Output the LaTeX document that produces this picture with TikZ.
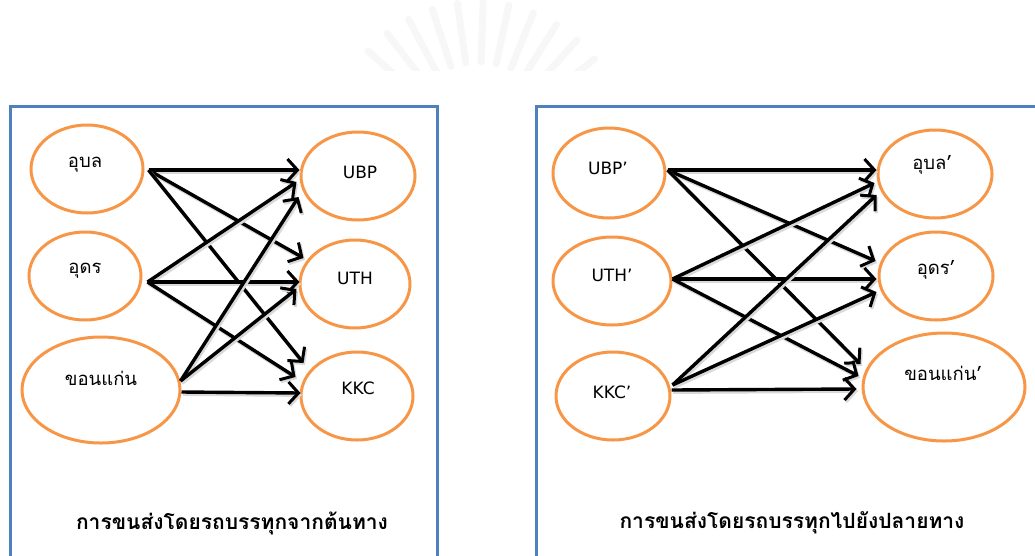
\documentclass[tikz,border=0pt]{standalone}
\usepackage{fontspec}
\newfontfamily\thaifont[Script=Thai]{Loma}
\newfontfamily\latfont{DejaVu Sans}
\usetikzlibrary{shapes.geometric,arrows.meta}
\definecolor{framblue}{HTML}{4F81BD}
\definecolor{ovalorange}{HTML}{F79646}
\tikzset{
  frame/.style={draw=framblue,line width=3pt},
  oval/.style={ellipse,draw=ovalorange,line width=3pt,inner sep=0pt},
  lbl/.style={font=\latfont\fontsize{17}{17}\selectfont,inner sep=0pt},
  tlbl/.style={font=\thaifont\fontsize{18.5}{18.5}\selectfont,inner sep=0pt},
  caption/.style={font=\thaifont\bfseries\fontsize{21}{21}\selectfont,inner sep=0pt},
  flow/.style={line width=3.4pt,-{Straight Barb[length=10pt,width=22pt,line width=3pt]},
    preaction={draw=black!15,line width=3.8pt,transform canvas={shift={(1.5pt,-2pt)}}}},
  ray/.style={line width=7pt,draw=black!3,line cap=round}
}
\begin{document}
\begin{tikzpicture}[x=1pt,y=-1pt]
\useasboundingbox (0,0) rectangle (1035,555);

% faint emblem behind the heading area
\begin{scope}
  \clip (360,0) rectangle (600,70);
  \foreach \a in {32,42,...,148}
    \draw[ray] (478,150) ++(\a:-88) -- ++(\a:-60);
\end{scope}

% panel frames (open at the bottom)
\draw[frame] (10,560) -- (10,106) -- (437,106) -- (437,560);
\draw[frame] (536,560) -- (536,106) -- (1040,106);

% ---------- left panel: origins -> hubs ----------
\node[oval,minimum width=112pt,minimum height=88pt] (ubon) at (87,169) {};
\node[oval,minimum width=112pt,minimum height=88pt] (udon) at (85,276) {};
\node[oval,minimum width=158pt,minimum height=106pt] (khon) at (101,390) {};
\node[oval,minimum width=114pt,minimum height=88pt] (ubp) at (358,176) {};
\node[oval,minimum width=110pt,minimum height=88pt] (uth) at (355,284) {};
\node[oval,minimum width=112pt,minimum height=88pt] (kkc) at (357,396) {};

\node[tlbl] (ubon-t) at (85,165) {อุบล};
\node[tlbl] (udon-t) at (85,271) {อุดร};
\node[tlbl] (khon-t) at (101,378) {ขอนแก่น};
\node[lbl] (ubp-t) at (360,172) {UBP};
\node[lbl] (uth-t) at (355,278) {UTH};
\node[lbl] (kkc-t) at (358,388) {KKC};

\draw[flow] ([xshift=4pt,yshift=-1pt]ubon.east) -- ([yshift=6pt]ubp.west);
\draw[flow] ([xshift=4pt,yshift=-1pt]ubon.east) -- ([xshift=5pt,yshift=26pt]uth.west);
\draw[flow] ([xshift=4pt,yshift=-1pt]ubon.east) -- ([xshift=4pt,yshift=33pt]kkc.west);
\draw[flow] ([xshift=5pt,yshift=-6pt]udon.east) -- ([xshift=-3pt,yshift=-6pt]ubp.west);
\draw[flow] ([xshift=5pt,yshift=-6pt]udon.east) -- ([xshift=1pt,yshift=2pt]uth.west);
\draw[flow] ([xshift=5pt,yshift=-6pt]udon.east) -- ([xshift=-4pt,yshift=19pt]kkc.west);
\draw[flow] ([xshift=-1pt,yshift=9pt]khon.east) -- ([xshift=-1pt,yshift=-21pt]ubp.west);
\draw[flow] ([xshift=-1pt,yshift=9pt]khon.east) -- ([xshift=-2pt,yshift=-5pt]uth.west);
\draw[flow] ([yshift=-2pt]khon.east) -- ([xshift=1pt,yshift=3pt]kkc.west);

\node[caption] (cap-l) at (232,523) {การขนส่งโดยรถบรรทุกจากต้นทาง};

% ---------- right panel: hubs -> destinations ----------
\node[oval,minimum width=112pt,minimum height=90pt] (ubp2) at (609,173) {};
\node[oval,minimum width=118pt,minimum height=88pt] (uth2) at (612,281) {};
\node[oval,minimum width=114pt,minimum height=88pt] (kkc2) at (613,396) {};
\node[oval,minimum width=114pt,minimum height=88pt] (ubon2) at (935,174) {};
\node[oval,minimum width=114pt,minimum height=88pt] (udon2) at (936,276) {};
\node[oval,minimum width=162pt,minimum height=108pt] (khon2) at (944,387) {};

\node[lbl] (ubp2-t) at (608,168) {UBP’};
\node[lbl] (uth2-t) at (612,275) {UTH’};
\node[lbl] (kkc2-t) at (612,392) {KKC’};
\node[tlbl] (ubon2-t) at (932,165) {อุบล’};
\node[tlbl] (udon2-t) at (936,270) {อุดร’};
\node[tlbl] (khon2-t) at (943,373) {ขอนแก่น’};

\draw[flow] ([xshift=1pt,yshift=3pt]ubp2.east) -- ([yshift=4pt]ubon2.west);
\draw[flow] ([xshift=1pt,yshift=3pt]ubp2.east) -- ([xshift=-2pt,yshift=15pt]udon2.west);
\draw[flow] ([xshift=1pt,yshift=3pt]ubp2.east) -- ([xshift=-1pt,yshift=23pt]khon2.west);
\draw[flow] ([yshift=2pt]uth2.east) -- ([xshift=-2pt,yshift=-9pt]ubon2.west);
\draw[flow] ([yshift=2pt]uth2.east) -- ([xshift=-1pt,yshift=-3pt]udon2.west);
\draw[flow] ([yshift=2pt]uth2.east) -- ([xshift=-3pt,yshift=11pt]khon2.west);
\draw[flow] ([xshift=1pt,yshift=11pt]kkc2.east) -- ([yshift=-21pt]ubon2.west);
\draw[flow] ([xshift=1pt,yshift=11pt]kkc2.east) -- ([xshift=-1pt,yshift=-16pt]udon2.west);
\draw[flow] ([yshift=6pt]kkc2.east) -- ([xshift=-5pt,yshift=-2pt]khon2.west);

\node[caption] (cap-r) at (792,523) {การขนส่งโดยรถบรรทุกไปยังปลายทาง};
\end{tikzpicture}
\end{document}
